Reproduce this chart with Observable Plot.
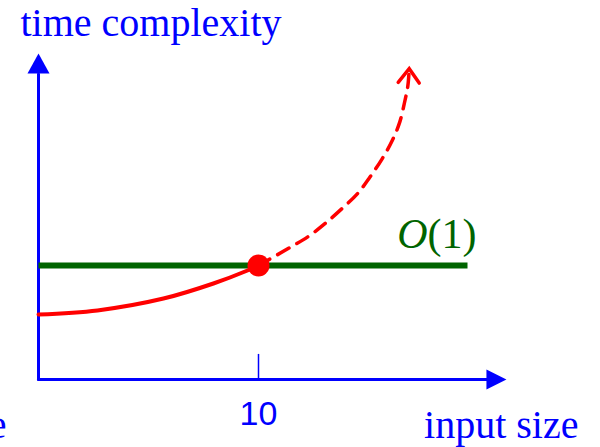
<!DOCTYPE html>
<html><head><meta charset="utf-8">
<script src="https://cdn.jsdelivr.net/npm/d3@7"></script>
<script src="https://cdn.jsdelivr.net/npm/@observablehq/plot@0.6"></script>
<style>html,body{margin:0;padding:0;background:#fff;overflow:hidden}</style>
</head><body><div id="chart"></div>
<script>
// ---- data (data units: input size on x, time on y) ----
const solidX = [0, 2.68, 5.68, 7.95, 9.5, 10];
const solidY = [2.85, 3.03, 3.55, 4.21, 4.78, 5];
const dashX = [10, 11.45, 12.29, 13.05, 13.73, 14.49, 15.06, 15.62, 16.08, 16.42, 16.64, 16.79, 16.85];
const dashY = [5, 5.80, 6.29, 6.86, 7.44, 8.14, 8.87, 9.68, 10.48, 11.29, 12.16, 12.89, 13.63];
const constX = [0, 19.5];
const constY = [5, 5];
const crossX = [10];
const crossY = [5];
const tickValues = [10];
const tickLabels = ["10"];
const yAxisTop = 14.3;
const xAxisEnd = 21.27;
const yLabel = "time complexity";
const xLabel = "input size";
const cutLabel = "e";
const bigO = "O";
const bigOArg = "(1)";

const solid = solidX.map((x, i) => ({x, y: solidY[i]}));
const dashed = dashX.map((x, i) => ({x, y: dashY[i]}));
const constant = constX.map((x, i) => ({x, y: constY[i]}));
const cross = crossX.map((x, i) => ({x, y: crossY[i]}));

const BLUE = "#0000ff", RED = "#ff0000", GREEN = "#006400";
const SERIF = "'Liberation Serif', 'Times New Roman', serif";
const SANS = "'Liberation Sans', Arial, sans-serif";

const triUp = {draw(c){c.moveTo(0,0);c.lineTo(11,20);c.lineTo(-11,20);c.closePath();}};
const triRight = {draw(c){c.moveTo(0,0);c.lineTo(-20,10);c.lineTo(-20,-10);c.closePath();}};
const th = 2 * Math.PI / 180;
const rot = (px, py) => [px*Math.cos(th) - py*Math.sin(th), px*Math.sin(th) + py*Math.cos(th)];
const chevron = {draw(c){
  const a = rot(-10.5, 14), b = rot(10.5, 14);
  c.moveTo(a[0], a[1]); c.lineTo(0, 0); c.lineTo(b[0], b[1]);
}};
const last = dashed[dashed.length - 1];

const chart = Plot.plot({
  width: 600, height: 447,
  margin: 0,
  x: {type: "linear", domain: [0, 10], range: [38, 258], axis: null},
  y: {type: "linear", domain: [0, 5], range: [379, 265], axis: null},
  style: {background: "#fff", overflow: "visible"},
  marks: [
    // axes
    Plot.line([{x: 0, y: 0}, {x: 0, y: yAxisTop - 0.9}], {x: "x", y: "y", stroke: BLUE, strokeWidth: 3}),
    Plot.line([{x: 0, y: 0}, {x: xAxisEnd - 0.9, y: 0}], {x: "x", y: "y", stroke: BLUE, strokeWidth: 3}),
    Plot.dot([0], {x: 0, y: yAxisTop, symbol: triUp, fill: BLUE, stroke: "none"}),
    Plot.dot([0], {x: xAxisEnd, y: 0, symbol: triRight, fill: BLUE, stroke: "none"}),
    Plot.ruleX(tickValues, {x: d => d, y1: 0, y2: 1.1, stroke: BLUE, strokeWidth: 1.5}),
    Plot.text(tickValues, {x: d => d, y: 0, text: (d, i) => tickLabels[i], dy: 45, lineAnchor: "bottom",
      textAnchor: "middle", fill: BLUE, fontSize: 34, fontFamily: SANS}),
    // O(1) line
    Plot.line(constant, {x: "x", y: "y", stroke: GREEN, strokeWidth: 6, strokeLinecap: "butt"}),
    // red curve
    Plot.line(solid, {x: "x", y: "y", stroke: RED, strokeWidth: 4, curve: "catmull-rom", strokeLinecap: "round"}),
    Plot.line(dashed, {x: "x", y: "y", stroke: RED, strokeWidth: 3.5, curve: "catmull-rom", strokeDasharray: "13,9"}),
    Plot.dot([last], {x: "x", y: "y", symbol: chevron, fill: "none", stroke: RED, strokeWidth: 3.5,
      strokeLinecap: "round", strokeLinejoin: "miter"}),
    Plot.dot(cross, {x: "x", y: "y", r: 11, fill: RED, stroke: "none"}),
    // labels
    Plot.text([bigOArg], {x: constX[1], y: constY[1], text: d => d, dx: 9, dy: -18, lineAnchor: "bottom",
      textAnchor: "end", fill: GREEN, fontSize: 42, fontFamily: SERIF}),
    Plot.text([bigO], {x: constX[1], y: constY[1], text: d => d, dx: -40, dy: -18, lineAnchor: "bottom",
      textAnchor: "end", fill: GREEN, fontSize: 42, fontFamily: SERIF, fontStyle: "italic"}),
    Plot.text([yLabel], {frameAnchor: "top-left", dx: 20, dy: 35, text: d => d, lineAnchor: "bottom",
      textAnchor: "start", fill: BLUE, fontSize: 40, fontFamily: SERIF}),
    Plot.text([xLabel], {frameAnchor: "bottom-right", dx: -22, dy: -10, text: d => d, lineAnchor: "bottom",
      textAnchor: "end", fill: BLUE, fontSize: 40, fontFamily: SERIF}),
    Plot.text([cutLabel], {frameAnchor: "bottom-left", dx: 6, dy: -10, text: d => d, lineAnchor: "bottom",
      textAnchor: "end", fill: BLUE, fontSize: 40, fontFamily: SERIF})
  ]
});
document.getElementById("chart").appendChild(chart);
</script>
</body></html>
